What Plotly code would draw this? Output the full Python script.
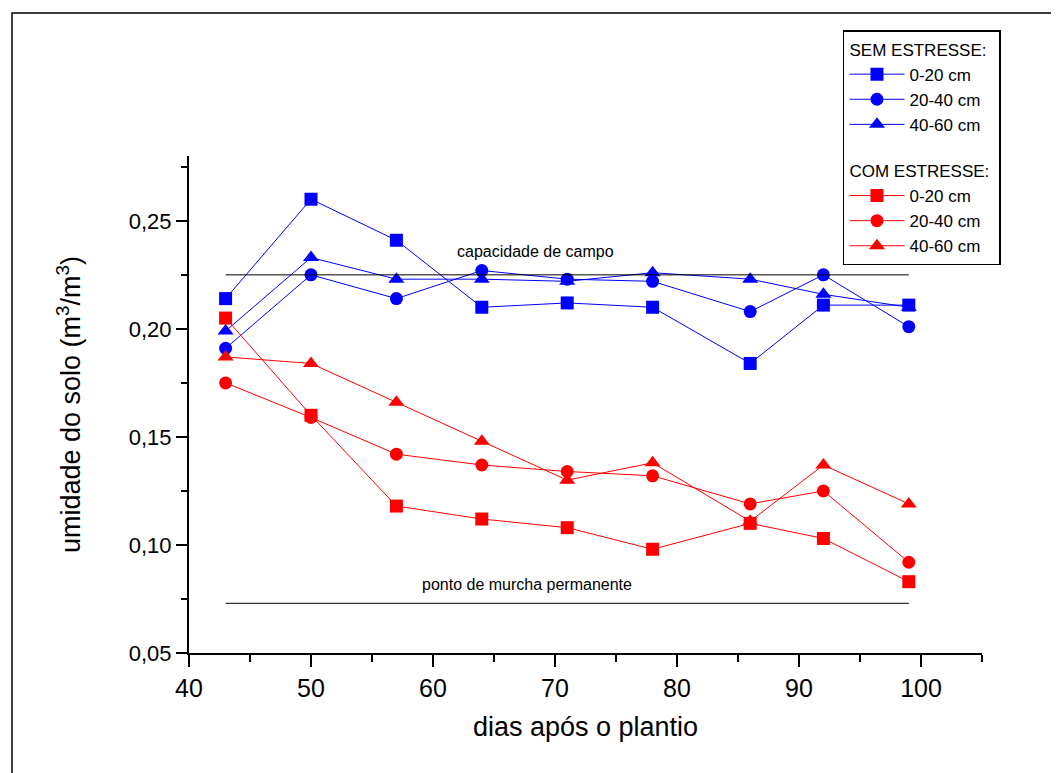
import plotly.graph_objects as go

dias = [43, 50, 57, 64, 71, 78, 86, 92, 99]

sem_0_20 = [0.214, 0.260, 0.241, 0.210, 0.212, 0.210, 0.184, 0.211, 0.211]
sem_20_40 = [0.191, 0.225, 0.214, 0.227, 0.223, 0.222, 0.208, 0.225, 0.201]
sem_40_60 = [0.199, 0.233, 0.223, 0.223, 0.222, 0.226, 0.223, 0.216, 0.210]

com_0_20 = [0.205, 0.160, 0.118, 0.112, 0.108, 0.098, 0.110, 0.103, 0.083]
com_20_40 = [0.175, 0.159, 0.142, 0.137, 0.134, 0.132, 0.119, 0.125, 0.092]
com_40_60 = [0.187, 0.184, 0.166, 0.148, 0.130, 0.138, 0.111, 0.137, 0.119]

capacidade_campo = 0.225
ponto_murcha = 0.073

labels = ["0-20 cm", "20-40 cm", "40-60 cm"]
symbols = ["square", "circle", "triangle-up"]

BLUE = "#0000FF"
RED = "#FF0000"
FONT = "Liberation Sans, Arial, sans-serif"

fig = go.Figure()


def add_group(series, color, group, title):
    for vals, lab, sym in zip(series, labels, symbols):
        fig.add_trace(go.Scatter(
            x=dias, y=vals, name=lab, mode="lines+markers",
            line=dict(color=color, width=1),
            marker=dict(symbol=sym, size=14 if sym == "triangle-up" else 13, color=color),
            legendgroup=group,
            legendgrouptitle=dict(text=title, font=dict(size=17, family=FONT, color="black")),
        ))


add_group([sem_0_20, sem_20_40, sem_40_60], BLUE, "sem", "SEM ESTRESSE:")
add_group([com_0_20, com_20_40, com_40_60], RED, "com", "COM ESTRESSE:")

# reference lines
fig.add_trace(go.Scatter(x=[dias[0], dias[-1]], y=[capacidade_campo, capacidade_campo],
                         mode="lines", line=dict(color="black", width=1), showlegend=False, hoverinfo="skip"))
fig.add_trace(go.Scatter(x=[dias[0], dias[-1]], y=[ponto_murcha, ponto_murcha],
                         mode="lines", line=dict(color="black", width=1), showlegend=False, hoverinfo="skip"))

fig.add_annotation(x=68.44, y=0.2356, text="capacidade de campo", showarrow=False,
                   font=dict(size=16, family=FONT, color="black"))
fig.add_annotation(x=67.7, y=0.0815, text="ponto de murcha permanente", showarrow=False,
                   font=dict(size=16, family=FONT, color="black"))

# outer frame
fig.add_shape(type="rect", xref="paper", yref="paper",
              x0=-0.2232, x1=1.111, y0=-0.2757, y1=1.2877,
              line=dict(color="black", width=1.5), fillcolor="rgba(0,0,0,0)")

fig.update_layout(
    width=1059, height=773,
    margin=dict(l=181, r=85, t=148, b=128),
    paper_bgcolor="white", plot_bgcolor="white",
    separators=",.",
    font=dict(family=FONT, color="black"),
    showlegend=True,
    legend=dict(
        x=0.8247, y=1.2535, xanchor="left", yanchor="top",
        bordercolor="black", borderwidth=1.5, bgcolor="white",
        font=dict(size=17, family=FONT, color="black"),
        traceorder="grouped", tracegroupgap=21, itemwidth=55,
    ),
    xaxis=dict(
        range=[40, 105], tick0=40, dtick=10, showgrid=False, zeroline=False,
        showline=True, linecolor="black", linewidth=2,
        ticks="outside", ticklen=12, tickwidth=1.8, tickcolor="black",
        minor=dict(ticks="outside", dtick=5, tick0=40, ticklen=7, tickwidth=1.8, tickcolor="black", showgrid=False),
        tickfont=dict(size=25, family=FONT),
        title=dict(text="dias após o plantio", font=dict(size=27, family=FONT), standoff=16),
    ),
    yaxis=dict(
        range=[0.05, 0.28], tick0=0.05, dtick=0.05, tickformat=".2f", showgrid=False, zeroline=False,
        showline=True, linecolor="black", linewidth=2,
        ticks="outside", ticklen=11, tickwidth=1.8, tickcolor="black",
        minor=dict(ticks="outside", dtick=0.025, tick0=0.05, ticklen=6, tickwidth=1.8, tickcolor="black", showgrid=False),
        tickfont=dict(size=22, family=FONT),
        title=dict(text="umidade do solo (m<sup>3</sup>/m<sup>3</sup>)", font=dict(size=27, family=FONT), standoff=40),
    ),
)

fig.write_html("out.html")
